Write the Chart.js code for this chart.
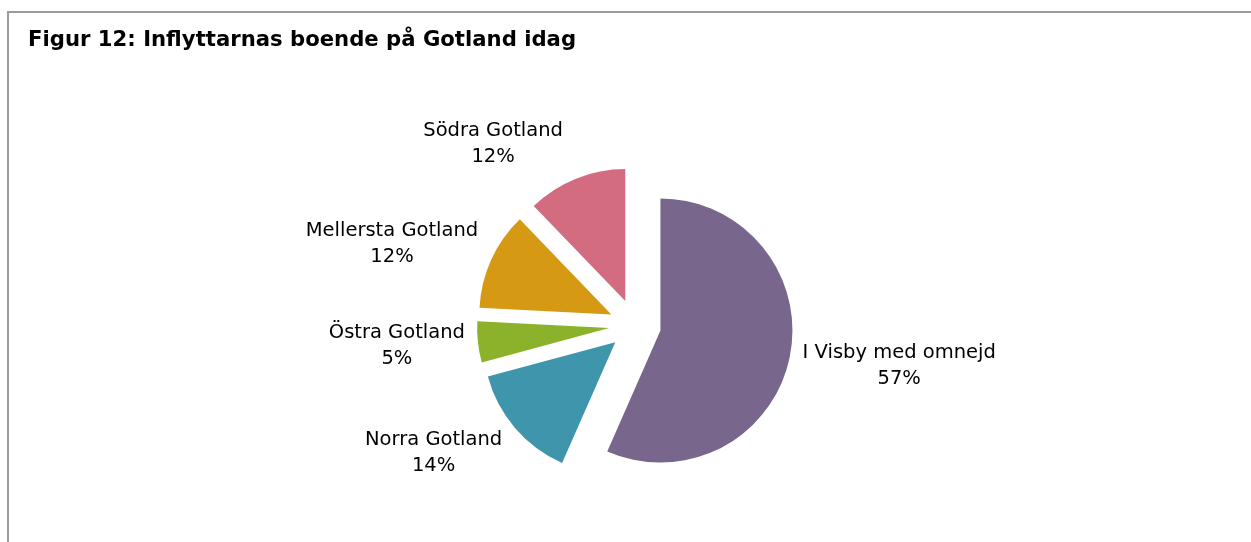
<!DOCTYPE html>
<html>
<head>
<meta charset="utf-8">
<script src="https://cdn.jsdelivr.net/npm/chart.js@4.4.0/dist/chart.umd.min.js"></script>
<style>
  html, body { margin: 0; padding: 0; background: #fff; overflow: hidden; }
  #frame {
    position: absolute; left: 7px; top: 11px; width: 1300px; height: 600px;
    border-top: 2px solid #9b9b9b; border-left: 2px solid #9b9b9b;
  }
  #chart { position: absolute; left: 0; top: 0; }
</style>
</head>
<body>
<div id="frame"></div>
<canvas id="chart" width="1251" height="542"></canvas>
<script>
const TITLE = 'Figur 12: Inflyttarnas boende på Gotland idag';

const CATEGORIES = [
  'I Visby med omnejd',
  'Norra Gotland',
  'Östra Gotland',
  'Mellersta Gotland',
  'Södra Gotland'
];

// shares in percent
const SHARES = [56.6, 14.2, 5.0, 12.0, 12.2];

const COLORS = [
  'rgb(120, 102, 140)',
  'rgb(62, 149, 172)',
  'rgb(139, 178, 42)',
  'rgb(213, 153, 20)',
  'rgb(211, 108, 128)'
];

const RADIUS = 132;
const EXPLODE = 26;   // px each slice is pulled out from the centre
const LABEL_FONT = '19.5px "DejaVu Sans"';
const LABEL_LINE = 26;

const total = SHARES.reduce((a, b) => a + b, 0);

// chart.js "offset" also bends the slice edges, so just move every slice out along its middle
const explode = {
  id: 'explode',
  beforeDatasetsDraw(chart) {
    const area = chart.chartArea;
    const cx = (area.left + area.right) / 2;
    const cy = (area.top + area.bottom) / 2;
    chart.getDatasetMeta(0).data.forEach(arc => {
      const mid = (arc.startAngle + arc.endAngle) / 2;
      arc.x = cx + Math.cos(mid) * EXPLODE;
      arc.y = cy + Math.sin(mid) * EXPLODE;
    });
  }
};

// puts "name / xx%" outside each slice, Excel style
const outsideLabels = {
  id: 'outsideLabels',
  afterDatasetsDraw(chart) {
    const ctx = chart.ctx;
    const meta = chart.getDatasetMeta(0);
    ctx.save();
    ctx.font = LABEL_FONT;
    ctx.fillStyle = '#000';
    ctx.textAlign = 'center';
    ctx.textBaseline = 'middle';
    meta.data.forEach((arc, i) => {
      const mid = (arc.startAngle + arc.endAngle) / 2;
      const dx = Math.cos(mid), dy = Math.sin(mid);
      const px = arc.x + dx * arc.outerRadius;
      const py = arc.y + dy * arc.outerRadius;

      const lines = [chart.data.labels[i], Math.round(SHARES[i] / total * 100) + '%'];
      const w = Math.max(...lines.map(l => ctx.measureText(l).width));
      const h = LABEL_LINE * lines.length;
      const mx = px + Math.sign(dx) * (w / 2 + 13);
      const my = py + dy * (h / 2 + 12);
      lines.forEach((l, j) => {
        ctx.fillText(l, mx, my - h / 2 + LABEL_LINE * (j + 0.5));
      });
    });
    ctx.restore();
  }
};

new Chart(document.getElementById('chart'), {
  type: 'pie',
  data: {
    labels: CATEGORIES,
    datasets: [{
      data: SHARES,
      backgroundColor: COLORS,
      borderWidth: 0
    }]
  },
  options: {
    responsive: false,
    animation: false,
    events: [],
    radius: RADIUS,
    layout: {
      padding: { top: 28, left: 28, right: 9, bottom: 0 }
    },
    plugins: {
      legend: { display: false },
      tooltip: { enabled: false },
      title: {
        display: true,
        text: TITLE,
        align: 'start',
        color: '#000',
        font: { family: '"DejaVu Sans"', size: 21.2, weight: 'bold', lineHeight: 1.2 },
        padding: { top: 0, bottom: 55 }
      }
    }
  },
  plugins: [explode, outsideLabels]
});
</script>
</body>
</html>
